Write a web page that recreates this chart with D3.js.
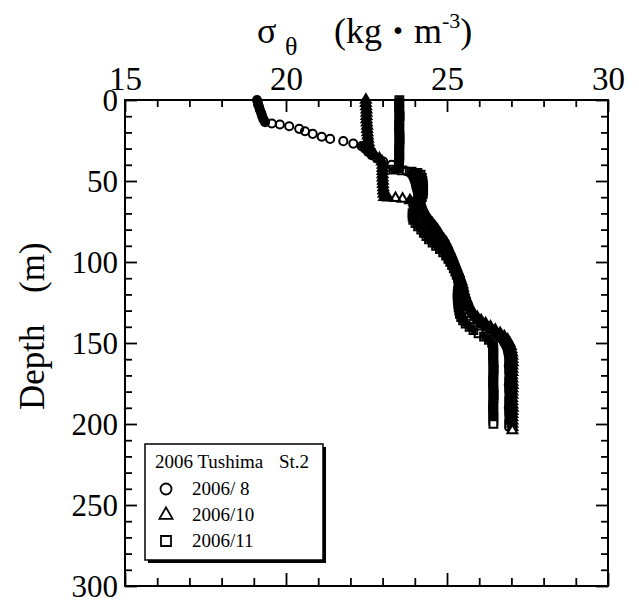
<!DOCTYPE html>
<html>
<head>
<meta charset="utf-8">
<script src="https://cdn.jsdelivr.net/npm/d3@7"></script>
<style>
  body { margin: 0; background: #fff; }
  text { font-family: "Liberation Serif", "Times New Roman", serif; fill: #000; }
</style>
</head>
<body>
<svg class="chart" width="639" height="600"></svg>
<script>
/* data: [depth (m), sigma-theta] */
const aug = [
  [0,19.10],[2,19.13],[4,19.16],[6,19.19],[8,19.23],[10,19.26],[12,19.30],
  [13.7,19.35],[14.5,19.56],[15.1,19.81],[16.2,20.10],[17.8,20.41],[19.3,20.59],[20.9,20.83],
  [22.7,21.11],[24,21.37],[25.4,21.78],[26.9,22.09],[28.5,22.35],
  [30,22.45],[32,22.55],[34,22.66],[36,22.82],[38,23.02],[40,23.28],[42,23.52],[44,23.74],
  [46,23.90],[48,23.96],[50,24.00],[52,24.03],[54,24.05],[56,24.08],[58,24.10],[60,24.12],
  [62,24.15],[64,24.18],[66,24.21],[68,24.25],[70,24.30],[72,24.36],[74,24.44],[76,24.52],
  [78,24.60],[80,24.67],[82,24.73],[84,24.80],[86,24.88],[88,24.94],[90,24.99],[92,25.04],
  [94,25.08],[96,25.13],[98,25.17],[100,25.21],[102,25.25],[104,25.29],[106,25.33],[108,25.37],
  [110,25.41],[112,25.43],[114,25.45],[116,25.47],[118,25.49],[120,25.50],[122,25.55],[124,25.60],
  [126,25.65],[128,25.68],[130,25.72],[132,25.78],[134,25.85],[136,25.95],[138,26.05],[140,26.20],
  [142,26.35],[144,26.50],[146,26.62],[148,26.72],[150,26.78],[152,26.84],[154,26.88],[156,26.90],
  [158,26.92],[160,26.93],[162,26.93],[164,26.92],[166,26.93],[168,26.93],[170,26.94],[172,26.93],
  [174,26.93],[176,26.92],[178,26.93],[180,26.93],[182,26.94],[184,26.93],[186,26.93],[188,26.93],
  [190,26.92],[192,26.93],[194,26.93],[196,26.94],[198,26.93],[200,26.93],[202,26.93]
]

const oct = [
  [0,22.48],[2,22.48],[4,22.49],[6,22.50],[8,22.50],[10,22.50],[12,22.50],[14,22.51],[16,22.52],
  [18,22.52],[20,22.53],[22,22.54],[24,22.55],[26,22.56],[28,22.58],[30,22.60],[32,22.64],
  [34,22.76],[36,22.90],[38,22.98],[40,23.00],[42,23.00],[44,23.00],[46,23.00],[48,23.00],
  [50,23.01],[52,23.01],[54,23.02],[56,23.02],[58,23.03],[60,23.05],[60.3,23.17],[60.6,23.40],
  [61,23.62],[62,23.85],[63,23.98],[64,24.05],[66,24.10],[68,24.13],[70,24.17],[72,24.22],
  [74,24.30],[76,24.38],[78,24.45],[80,24.52],[82,24.58],[84,24.65],[86,24.70],[88,24.77],
  [90,24.85],[92,24.93],[94,25.00],[96,25.06],[98,25.11],[100,25.16],[102,25.21],[104,25.26],
  [106,25.31],[108,25.36],[110,25.41],[112,25.45],[114,25.48],[116,25.50],[118,25.52],[120,25.55],
  [122,25.58],[124,25.62],[126,25.66],[128,25.70],[130,25.76],[132,25.84],[134,25.94],[136,26.06],
  [138,26.20],[140,26.35],[142,26.50],[144,26.65],[146,26.78],[148,26.88],[150,26.94],[152,26.98],
  [154,27.00],[156,27.02],[158,27.03],[160,27.03],[162,27.04],[164,27.03],[166,27.03],[168,27.03],
  [170,27.02],[172,27.03],[174,27.03],[176,27.04],[178,27.03],[180,27.03],[182,27.03],[184,27.02],
  [186,27.03],[188,27.03],[190,27.04],[192,27.03],[194,27.03],[196,27.03],[198,27.03],[200,27.03],
  [202,27.03],[204,27.03]
]

const nov = [
  [0,23.52],[2,23.52],[4,23.51],[6,23.52],[8,23.52],[10,23.53],[12,23.52],[14,23.52],[16,23.51],
  [18,23.52],[20,23.52],[22,23.52],[24,23.53],[26,23.52],[28,23.52],[30,23.52],[32,23.51],
  [34,23.52],[36,23.52],[38,23.51],[40,23.51],[42,23.50],[43,23.33],[43.5,23.60],[44.2,23.90],
  [45,24.08],[46,24.18],[48,24.22],[50,24.24],[52,24.25],[54,24.26],[56,24.26],[58,24.25],
  [60,24.22],[62,24.18],[64,24.10],[66,24.02],[68,23.96],[70,23.93],[72,23.93],[74,23.95],
  [76,24.02],[78,24.10],[80,24.20],[82,24.28],[84,24.36],[86,24.44],[88,24.55],[90,24.66],
  [92,24.78],[94,24.88],[96,24.97],[98,25.04],[100,25.10],[102,25.16],[104,25.21],[106,25.26],
  [108,25.30],[110,25.34],[112,25.36],[114,25.37],[116,25.36],[118,25.34],[120,25.33],[122,25.33],
  [124,25.34],[126,25.35],[128,25.36],[130,25.38],[132,25.40],[134,25.44],[136,25.50],[138,25.58],
  [140,25.70],[142,25.82],[144,25.98],[146,26.15],[148,26.30],[150,26.40],[152,26.43],[154,26.44],
  [156,26.44],[158,26.43],[160,26.44],[162,26.44],[164,26.44],[166,26.45],[168,26.44],[170,26.44],
  [172,26.44],[174,26.43],[176,26.44],[178,26.44],[180,26.44],[182,26.45],[184,26.44],[186,26.44],
  [188,26.44],[190,26.43],[192,26.44],[194,26.44],[196,26.44],[198,26.44],[200,26.44]
]

const xMajor = [15, 20, 25, 30]
const yMajor = [0, 50, 100, 150, 200, 250, 300]
const legendTitle = '2006 Tushima'
const legendStation = 'St.2'
const legendLabels = ['2006/ 8', '2006/10', '2006/11']

const svg = d3.select('.chart')
const x = d3.scaleLinear().domain([15, 30]).range([125, 608])
const y = d3.scaleLinear().domain([0, 300]).range([100, 586])

const series = [
  { data: aug, sym: d3.symbolCircle, size: 52 },
  { data: oct, sym: d3.symbolTriangle, size: 42 },
  { data: nov, sym: d3.symbolSquare, size: 60 }
]

// each profile: closely spaced samples merge into a solid band, then open markers on top
series.forEach(s => {
  const g = svg.append('g')
  const pts = s.data.slice(0, -1).map(d => [x(d[1]), y(d[0])])
  const segs = d3.pairs(pts).filter(([a, b]) => Math.hypot(b[0] - a[0], b[1] - a[1]) < 6)
  g.selectAll('line')
    .data(segs).enter().append('line')
    .attr('x1', d => d[0][0]).attr('y1', d => d[0][1])
    .attr('x2', d => d[1][0]).attr('y2', d => d[1][1])
    .attr('stroke', '#000').attr('stroke-width', 7).attr('stroke-linecap', 'round')
  g.selectAll('path')
    .data(s.data).enter().append('path')
    .attr('transform', d => `translate(${x(d[1])},${y(d[0])})`)
    .attr('d', d3.symbol(s.sym, s.size))
    .attr('fill', (d, i) => i === s.data.length - 1 ? '#fff' : 'none')
    .attr('stroke', '#000')
    .attr('stroke-width', 2)
})

// frame
svg.append('rect')
  .attr('x', x.range()[0]).attr('y', y.range()[0])
  .attr('width', x.range()[1] - x.range()[0])
  .attr('height', y.range()[1] - y.range()[0])
  .attr('fill', 'none').attr('stroke', '#000').attr('stroke-width', 2)

const xMinor = x.ticks(15).filter(v => !xMajor.includes(v))
const yMinor = y.ticks(30).filter(v => !yMajor.includes(v))

function addAxis (axis, tx, ty, fontSize) {
  const g = svg.append('g')
    .attr('transform', `translate(${tx},${ty})`)
    .call(axis)
  g.select('.domain').remove()
  g.selectAll('line').attr('stroke-width', 1.8)
  g.selectAll('text')
    .attr('font-family', '"Liberation Serif", serif')
    .attr('font-size', fontSize)
  return g
}

// top
addAxis(d3.axisTop(x).tickValues(xMajor).tickSizeInner(-12).tickSizeOuter(0).tickPadding(10), 0, y(0), 33)
addAxis(d3.axisTop(x).tickValues(xMinor).tickSize(-7).tickFormat(''), 0, y(0), 0)
// bottom
addAxis(d3.axisBottom(x).tickValues(xMajor).tickSize(-13).tickFormat(''), 0, y(300), 0)
addAxis(d3.axisBottom(x).tickValues(xMinor).tickSize(-8).tickFormat(''), 0, y(300), 0)
// left
addAxis(d3.axisLeft(y).tickValues(yMajor).tickSizeInner(-12).tickSizeOuter(0).tickPadding(7), x(15), 0, 31)
  .selectAll('text').attr('dy', '0.34em')
addAxis(d3.axisLeft(y).tickValues(yMinor).tickSize(-7).tickFormat(''), x(15), 0, 0)
// right
addAxis(d3.axisRight(y).tickValues(yMajor).tickSize(-12).tickFormat(''), x(30), 0, 0)
addAxis(d3.axisRight(y).tickValues(yMinor).tickSize(-7).tickFormat(''), x(30), 0, 0)

// x title
const title = svg.append('text').attr('font-size', 36).attr('y', 43)
title.append('tspan').attr('x', 257).text('σ')
title.append('tspan').attr('x', 285).attr('y', 55).attr('font-size', 26).text('θ')
title.append('tspan').attr('x', 334).attr('y', 43).text('(kg')
title.append('tspan').attr('font-family', '"Noto Sans CJK JP"').attr('font-size', 32).text('・')
title.append('tspan').text('m')
title.append('tspan').attr('dy', -15).attr('font-size', 22).text('-3')
title.append('tspan').attr('dy', 15).text(')')

// y title
svg.append('text')
  .attr('transform', 'translate(44,410) rotate(-90)')
  .attr('font-size', 35)
  .text('Depth')
svg.append('text')
  .attr('transform', 'translate(44,293) rotate(-90)')
  .attr('font-size', 35)
  .text('(m)')

// legend
const lg = svg.append('g').attr('transform', 'translate(145,444)')
lg.append('rect').attr('x', 3).attr('y', 3).attr('width', 178).attr('height', 116).attr('fill', '#000')
lg.append('rect').attr('width', 178).attr('height', 116).attr('fill', '#fff').attr('stroke', '#000').attr('stroke-width', 1.5)
lg.append('text').attr('x', 10).attr('y', 24).attr('font-size', 19).text(legendTitle)
lg.append('text').attr('x', 134).attr('y', 24).attr('font-size', 19).text(legendStation)
const legendSyms = [[d3.symbolCircle, 95], [d3.symbolTriangle, 75], [d3.symbolSquare, 100]]
legendLabels.forEach((lab, i) => {
  lg.append('path')
    .attr('transform', `translate(21,${45 + i * 26})`)
    .attr('d', d3.symbol(legendSyms[i][0], legendSyms[i][1]))
    .attr('fill', 'none').attr('stroke', '#000').attr('stroke-width', 1.8)
  lg.append('text').attr('x', 47).attr('y', 51 + i * 26).attr('font-size', 19)
    .style('white-space', 'pre').text(lab)
})
</script>
</body>
</html>
